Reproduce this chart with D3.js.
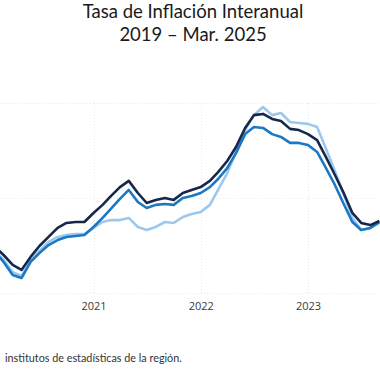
<!DOCTYPE html>
<html><head><meta charset="utf-8">
<script src="https://cdn.jsdelivr.net/npm/d3@7/dist/d3.min.js"></script>
<style>
html,body{margin:0;padding:0;background:#fff;overflow:hidden;}
svg{display:block;}
</style></head>
<body>
<svg id="chart" width="380" height="380"></svg>
<script>
// Monthly data, Feb 2020 – Sep 2023 (visible window of the chart)
const startMonth = "2020-02";
const seriesDark  = [1.94,1.60,1.18,0.97,1.52,1.98,2.36,2.74,2.95,2.99,2.99,3.37,3.71,4.08,4.46,4.72,4.21,3.79,3.92,4.00,3.92,4.21,4.34,4.46,4.72,5.09,5.56,6.15,6.95,7.49,7.54,7.33,7.24,6.91,6.86,6.69,6.44,5.77,5.01,4.25,3.37,2.95,2.86,3.03];
const seriesMid   = [1.73,1.31,0.76,0.63,1.31,1.68,2.02,2.23,2.36,2.40,2.44,2.78,3.16,3.54,3.96,4.34,3.83,3.58,3.71,3.75,3.71,4.00,4.08,4.21,4.46,4.80,5.26,5.89,6.69,6.99,6.95,6.69,6.57,6.32,6.32,6.23,5.94,5.31,4.59,3.79,2.99,2.65,2.74,2.99];
const seriesLight = [1.77,1.39,0.88,0.72,1.35,1.77,2.15,2.36,2.44,2.48,2.48,2.74,2.99,3.07,3.07,3.16,2.78,2.65,2.78,2.99,2.95,3.20,3.33,3.41,3.71,4.34,5.05,5.94,6.86,7.49,7.83,7.49,7.58,7.20,7.16,7.12,6.99,6.15,5.18,4.21,3.16,2.65,2.74,2.95];
const yearTicks = ["2021","2022","2023"];
const gridValues = [0,4,8];
const titleLines = ["Tasa de Inflación Interanual","2019 – Mar. 2025"];
const sourceText = "institutos de estadísticas de la región.";

const parseMonth = d3.timeParse("%Y-%m");
const t0 = parseMonth(startMonth);
const dates = seriesDark.map((_, i) => d3.timeMonth.offset(t0, i));

const svg = d3.select("#chart");
const x = d3.scaleTime()
  .domain([new Date(2021,0,1), new Date(2023,0,1)])
  .range([93.5, 308]);
const y = d3.scaleLinear().domain([0, 8]).range([293, 103]);

// gridlines
const grid = svg.append("g").attr("stroke","#e8e8e8").attr("stroke-width",1).attr("stroke-dasharray","1,2");
grid.selectAll("line.h").data(gridValues).join("line")
  .attr("x1",0).attr("x2",380)
  .attr("y1",d=>Math.round(y(d))+0.5).attr("y2",d=>Math.round(y(d))+0.5);
grid.selectAll("line.v").data(yearTicks).join("line")
  .attr("x1",d=>Math.round(x(new Date(+d,0,1)))+0.5)
  .attr("x2",d=>Math.round(x(new Date(+d,0,1)))+0.5)
  .attr("y1",y(8)).attr("y2",y(0));

// x axis labels
const xAxis = d3.axisBottom(x)
  .tickValues(yearTicks.map(d => new Date(+d,0,1)))
  .tickFormat(d3.timeFormat("%Y"))
  .tickSize(0).tickPadding(9);
const gx = svg.append("g").attr("transform","translate(0,"+y(0)+")").call(xAxis);
gx.select(".domain").remove();
gx.selectAll("text").attr("font-family","'Open Sans', sans-serif").attr("font-size",11).attr("fill","#3a3a3a");

// lines
const line = d3.line().x((d,i)=>x(dates[i])).y(d=>y(d)).curve(d3.curveLinear);
const series = [
  {vals: seriesLight, color:"#9dc8ee"},
  {vals: seriesMid,   color:"#1b78c4"},
  {vals: seriesDark,  color:"#15284c"}
];
svg.append("g").selectAll("path").data(series).join("path")
  .attr("d", d=>line(d.vals))
  .attr("fill","none")
  .attr("stroke", d=>d.color)
  .attr("stroke-width",2.6)
  .attr("stroke-linejoin","round");

// title
svg.append("g").selectAll("text").data(titleLines).join("text")
  .attr("x",193).attr("y",(d,i)=>18+i*23)
  .attr("text-anchor","middle")
  .attr("font-family","Lato, sans-serif")
  .attr("font-size",18.5)
  .attr("fill","#1a1a1a")
  .text(d=>d);

// source
svg.append("text").attr("x",5).attr("y",362)
  .attr("font-family","Lato, sans-serif").attr("font-size",10.8).attr("fill","#333")
  .text(sourceText);
</script>
</body></html>
